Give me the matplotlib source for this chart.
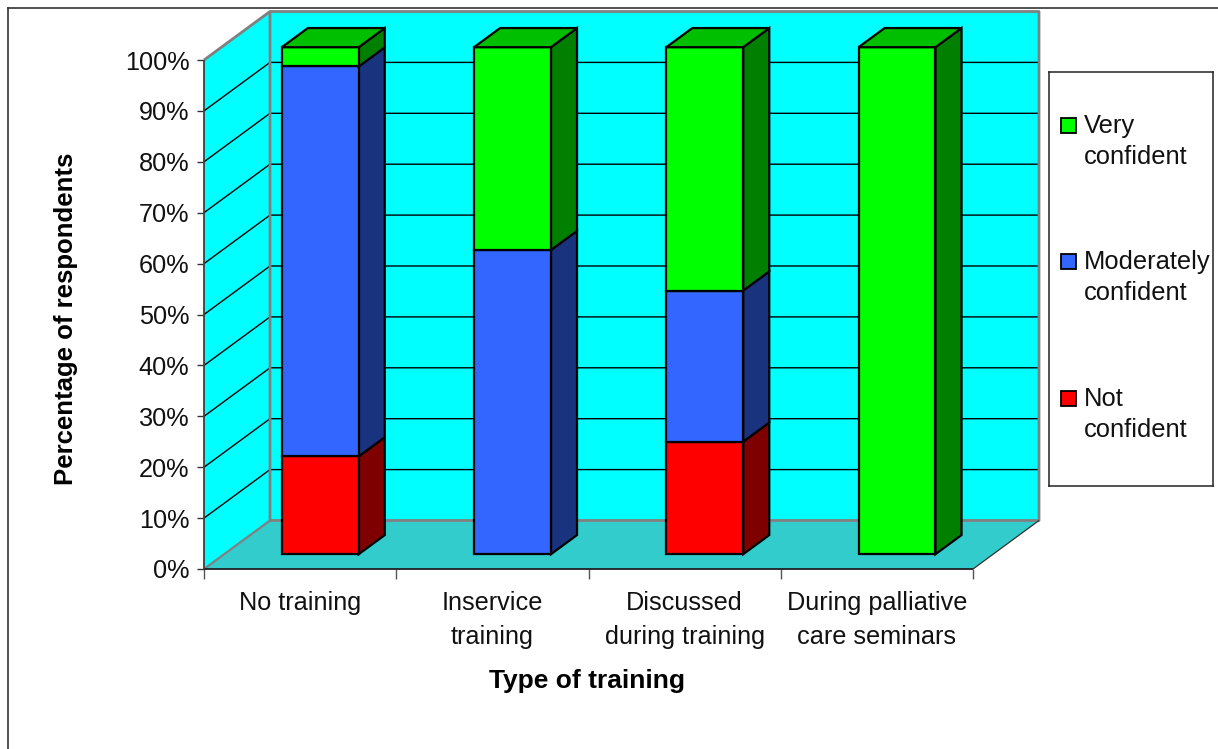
import matplotlib
matplotlib.use("Agg")
import matplotlib.pyplot as plt
from matplotlib.lines import Line2D
from matplotlib.patches import Polygon, Rectangle

plt.rcParams["font.family"] = ["Liberation Sans", "DejaVu Sans"]

# Survey results, percent of respondents in each training group
categories = ["No training", "Inservice\ntraining", "Discussed\nduring training",
              "During palliative\ncare seminars"]
not_confident = [19.3, 0.0, 22.2, 0.0]
moderately_confident = [76.9, 60.0, 29.8, 0.0]
very_confident = [3.8, 40.0, 48.0, 100.0]
y_ticks = list(range(0, 101, 10))
x_edges = [0, 1, 2, 3, 4]

series_names = ["Not\nconfident", "Moderately\nconfident", "Very\nconfident"]
face_colors = ["#FF0000", "#3366FF", "#00FF00"]
side_colors = ["#7F0000", "#1A337F", "#007F00"]
top_colors = ["#BF0000", "#264CBF", "#00BF00"]

W, H = 1218, 749
fig = plt.figure(figsize=(W / 100, H / 100), dpi=100, facecolor="white")
ax = fig.add_axes([204 / W, 1 - 569 / H, 769 / W, 509 / H])
ax.set_xlim(0, 4)
ax.set_ylim(0, 100)
ax.patch.set_visible(False)

# Oblique projection: depth 0 is the front plane, depth 1 the back wall
DX, DY = 66 / 769 * 4, 48.5 / 509 * 100


def proj(x, y, depth=0.0):
    return (x + DX * depth, y + DY * depth)


def poly(points, face, edge, lw, z):
    ax.add_patch(Polygon([proj(*p) for p in points], closed=True, facecolor=face,
                         edgecolor=edge, linewidth=lw, zorder=z, clip_on=False,
                         joinstyle="miter"))


def line(points, color, lw, z):
    xs, ys = zip(*[proj(*p) for p in points])
    ax.add_line(Line2D(xs, ys, color=color, lw=lw, zorder=z, clip_on=False,
                       solid_capstyle="butt"))


WALL, FLOOR, GREY = "#00FFFF", "#33CCCC", "#808080"

# Left wall, back wall and floor
poly([(0, 0, 0), (0, 100, 0), (0, 100, 1), (0, 0, 1)], WALL, "none", 0, 1)
poly([(0, 0, 1), (0, 100, 1), (4, 100, 1), (4, 0, 1)], WALL, "none", 0, 1)
poly([(0, 0, 0), (4, 0, 0), (4, 0, 1), (0, 0, 1)], FLOOR, "none", 0, 1)

# Gridlines run along the left wall and across the back wall
for t in y_ticks[1:-1]:
    line([(0, t, 0), (0, t, 1), (4, t, 1)], "black", 1.0, 2)

# Wall outlines
line([(0, 100, 0), (0, 100, 1), (4, 100, 1), (4, 0, 1), (0, 0, 1), (0, 100, 1)], GREY, 2.0, 3)
line([(0, 0, 0), (0, 0, 1)], GREY, 1.6, 3)
line([(4, 0, 0), (4, 0, 1)], "#303030", 0.9, 3)
line([(0, 0, 0), (4, 0, 0)], "#202020", 1.3, 3)
line([(0, 0, 0), (0, 100, 0)], "#404040", 1.3, 3)

# Stacked 3-D columns; the column scale is slightly shorter than the wall scale
BAR_W, D0, D1 = 0.4, 0.305, 0.70
BAR_SCALE = 507 / 509
stacks = [not_confident, moderately_confident, very_confident]
z = 4
for i in range(len(categories)):
    left = i + 0.5 - BAR_W / 2
    right = left + BAR_W
    base = 0.0
    for values, fc, sc, tc in zip(stacks, face_colors, side_colors, top_colors):
        v = values[i] * BAR_SCALE
        if v <= 0:
            continue
        top = base + v
        poly([(right, base, D0), (right, base, D1), (right, top, D1), (right, top, D0)],
             sc, "black", 1.6, z)
        poly([(left, base, D0), (right, base, D0), (right, top, D0), (left, top, D0)],
             fc, "black", 1.6, z + 0.1)
        z += 0.2
        base = top
    poly([(left, base, D0), (right, base, D0), (right, base, D1), (left, base, D1)],
         tc, "black", 1.6, z)
    z += 0.2

# Axes: ticks, tick labels, titles
for s in ax.spines.values():
    s.set_visible(False)
ax.set_yticks(y_ticks)
ax.set_yticklabels([f"{t}%" for t in y_ticks], fontsize=18.2, color="#111111")
ax.tick_params(axis="y", length=5, width=1, color="#333333", pad=5.5)
ax.set_xticks(x_edges)
ax.set_xticklabels([])
ax.tick_params(axis="x", which="major", length=7.5, width=1, color="#555555")
ax.set_xticks([i + 0.5 for i in range(len(categories))], minor=True)
ax.set_xticklabels(categories, minor=True, fontsize=18.2, color="#111111", linespacing=1.52)
ax.tick_params(axis="x", which="minor", length=0, pad=16)

ax.set_xlabel("Type of training", fontsize=19, fontweight="bold", va="center")
ax.xaxis.set_label_coords((587 - 204) / 769, (569 - 681) / 509)
ax.set_ylabel("Percentage of respondents", fontsize=18.5, fontweight="bold", va="center")
ax.yaxis.set_label_coords((66 - 204) / 769, (569 - 319) / 509)

# Legend panel, laid out in pixel units
lg = fig.add_axes([1049 / W, 1 - 486 / H, 164 / W, 414 / H])
lg.set_xlim(1049, 1213)
lg.set_ylim(486, 72)
lg.set_xticks([])
lg.set_yticks([])
for s in lg.spines.values():
    s.set_linewidth(1.1)
    s.set_color("#222222")
legend_rows = [125, 261, 398]
for row, name, fc in zip(legend_rows, series_names[::-1], face_colors[::-1]):
    lg.add_patch(Rectangle((1061, row - 7.5), 15, 15, facecolor=fc, edgecolor="black", lw=1.3))
    lg.text(1084, row - 11, name, fontsize=18.4, va="top", ha="left", color="#111111",
            linespacing=1.38)

# Page frame along the top and left
fig.add_artist(Line2D([8 / W, 8 / W], [0, 1 - 8 / H], color="#333333", lw=1.2))
fig.add_artist(Line2D([8 / W, 1], [1 - 8 / H, 1 - 8 / H], color="#333333", lw=1.2))

fig.savefig("out.png", dpi=100, facecolor="white")
